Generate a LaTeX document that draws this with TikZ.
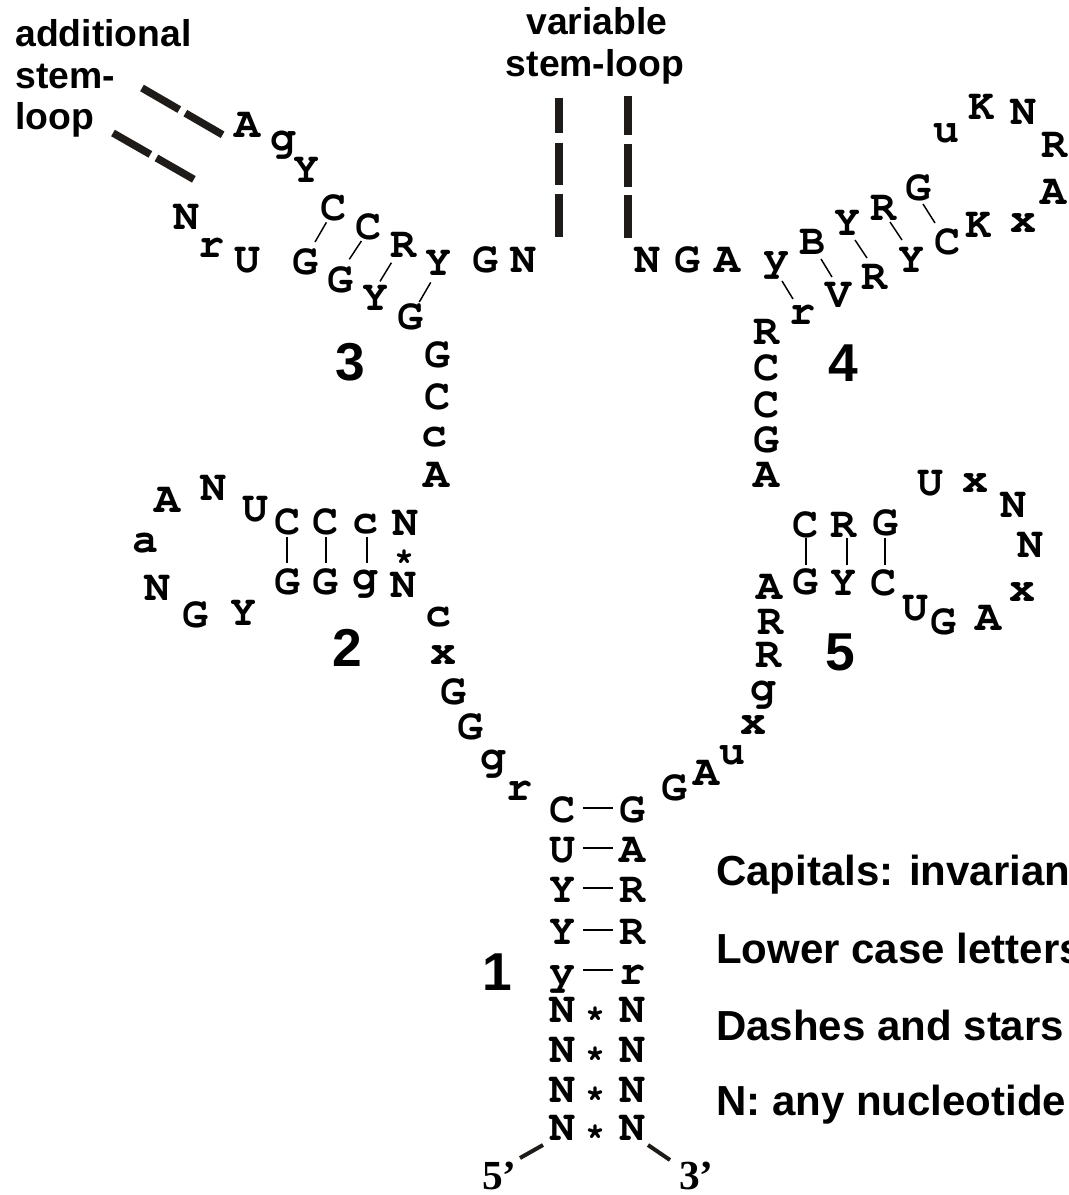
\documentclass[tikz,border=0pt]{standalone}
\usepackage[T1]{fontenc}
\usepackage{fontspec}
\usetikzlibrary{calc}
\newfontfamily\labelfont{Liberation Sans}
\newfontfamily\primefont{Liberation Serif}
\newcommand\nucfont{\fontencoding{T1}\fontfamily{pcr}\fontseries{b}\fontshape{n}\fontsize{32.5pt}{32.5pt}\selectfont}
\newcommand\starfont{\fontencoding{T1}\fontfamily{pcr}\fontseries{b}\fontshape{n}\fontsize{25pt}{25pt}\selectfont}
\definecolor{inkdark}{RGB}{30,27,24}

\begin{document}
\begin{tikzpicture}[x=0.75pt,y=-0.75pt,
  nuc/.style={font=\nucfont, inner sep=0pt, text height=18.6pt, text depth=0pt, anchor=center},
  starmark/.style={font=\starfont, inner sep=0pt, anchor=center, yshift=-4pt},
  pairln/.style={line width=1.1pt, black},
  leadln/.style={line width=3pt, inkdark},
  loopdash/.style={line width=5.6pt, inkdark, dash pattern=on 32.3pt off 5.3pt},
  vardash/.style={line width=6pt, inkdark},
  num/.style={font={\labelfont\bfseries\fontsize{40pt}{40pt}\selectfont}, inner sep=0pt, anchor=center},
  lab/.style={font={\labelfont\bfseries\fontsize{28pt}{31.5pt}\selectfont}, inner sep=0pt},
  legend/.style={font={\labelfont\bfseries\fontsize{31.5pt}{34pt}\selectfont}, inner sep=0pt, anchor=base west},
  prime/.style={font={\primefont\bfseries\fontsize{31pt}{31pt}\selectfont}, inner sep=0pt, anchor=base west}]

\useasboundingbox (0,0) rectangle (1068,1195);
\clip (0,0) rectangle (1068,1195);
\fill[white] (0,0) rectangle (1068,1195);

% ---- labels of the optional stem-loops
\node[lab, anchor=base west] (addA) at (15,47) {additional};
\node[lab, anchor=base west] (addB) at (15,89) {stem-};
\node[lab, anchor=base west] (addC) at (15,130) {loop};
\node[lab, anchor=base] (varA) at (597,35) {variable};
\node[lab, anchor=base] (varB) at (595,77) {stem-loop};

% ---- stem 3 with the additional stem-loop
\node[nuc] (s3a) at (247,125) {A};
\node[nuc] (s3b) at (283,138) {g};
\node[nuc] (s3c) at (306,170) {Y};
\node[nuc] (s3d) at (333,208) {C};
\node[nuc] (s3e) at (368,227) {C};
\node[nuc] (s3f) at (403,245) {R};
\node[nuc] (s3g) at (438,263) {Y};
\node[nuc] (s3h) at (485,260) {G};
\node[nuc] (s3i) at (523,260) {N};
\node[nuc] (s3n) at (186,217) {N};
\node[nuc] (s3o) at (211,245) {r};
\node[nuc] (s3p) at (247,260) {U};
\node[nuc] (s3q) at (305,262) {G};
\node[nuc] (s3r) at (340,280) {G};
\node[nuc] (s3s) at (375,298) {Y};
\node[nuc] (s3t) at (410,317) {G};
\draw[pairln] ($(s3d)+(-6.6,14.4)$) -- ($(s3q)+(10,-20)$);
\draw[pairln] ($(s3e)+(-6.6,14)$) -- ($(s3r)+(9.3,-20.7)$);
\draw[pairln] ($(s3f)+(-11.6,17.7)$) -- ($(s3s)+(5,-16.6)$);
\draw[pairln] ($(s3g)+(-7.3,19.4)$) -- ($(s3t)+(9.3,-15)$);
\coordinate (addU) at (142,88);
\coordinate (addL) at (113,133);
\draw[loopdash] (addU) -- ($(s3a)+(-24,10)$);
\draw[loopdash] (addL) -- ($(s3n)+(9,-37)$);

% ---- variable stem-loop
\coordinate (vl1) at (559,98);  \coordinate (vl2) at (559,237);
\coordinate (vr1) at (628,96);  \coordinate (vr2) at (628,238);
\draw[vardash] (vl1) -- (559,133) (559,143) -- (559,185) (559,194) -- (vl2);
\draw[vardash] (vr1) -- (628,135) (628,144) -- (628,187) (628,195) -- (vr2);

% ---- junction between stems 3 and 2
\node[nuc] (j32a) at (437,355) {G};
\node[nuc] (j32b) at (437,397) {C};
\node[nuc] (j32c) at (434,434) {c};
\node[nuc] (j32d) at (436,475) {A};
\node[num] (n3) at (350,362) {3};

% ---- stem 2
\node[nuc] (s2a) at (405,523) {N};
\node[nuc] (s2b) at (365,521) {c};
\node[nuc] (s2c) at (325,522) {C};
\node[nuc] (s2d) at (287,522) {C};
\node[nuc] (s2e) at (255,509) {U};
\node[nuc] (s2f) at (213,488) {N};
\node[nuc] (s2g) at (167,500) {A};
\node[nuc] (s2h) at (145,540) {a};
\node[nuc] (s2i) at (157,588) {N};
\node[nuc] (s2j) at (195,615) {G};
\node[nuc] (s2k) at (243,613) {Y};
\node[nuc] (s2l) at (287,582) {G};
\node[nuc] (s2m) at (325,582) {G};
\node[nuc] (s2n) at (365,577) {g};
\node[nuc] (s2o) at (403,585) {N};
\node[starmark] (s2st) at (404,553) {*};
\draw[pairln] ($(s2d)+(0,15)$) -- ($(s2l)+(0,-19)$);
\draw[pairln] ($(s2c)+(1,15)$) -- ($(s2m)+(1,-19)$);
\draw[pairln] ($(s2b)+(2,16)$) -- ($(s2n)+(2,-14)$);
\node[num] (n2) at (347,648) {2};

% ---- junction between stems 2 and 1
\node[nuc] (j21a) at (438,614) {c};
\node[nuc] (j21b) at (443,652) {x};
\node[nuc] (j21c) at (453,692) {G};
\node[nuc] (j21d) at (470,727) {G};
\node[nuc] (j21e) at (493,757) {g};
\node[nuc] (j21f) at (519,788) {r};

% ---- stem 1 (acceptor stem)
\foreach \i/\l/\r/\y in {1/C/G/810, 2/U/A/850, 3/Y/R/890, 4/Y/R/932, 5/y/r/972,
                         6/N/N/1010, 7/N/N/1050, 8/N/N/1090, 9/N/N/1128} {
  \node[nuc] (L\i) at (562,\y) {\l};
  \node[nuc] (R\i) at (632,\y) {\r};
}
\foreach \i in {1,...,5} {
  \draw[pairln] ($(L\i)+(21,-2)$) -- ($(R\i)+(-19,-2)$);
}
\foreach \i/\y in {6/1010, 7/1050, 8/1090, 9/1128} {
  \node[starmark] (st\i) at (595,\y) {*};
}
\node[num] (n1) at (497,972) {1};
\node[prime] (p5) at (482,1189) {5’};
\node[prime] (p3) at (679,1189) {3’};
\draw[leadln] ($(L9)+(-19,17)$) -- ($(L9)+(-42,30)$);
\draw[leadln] ($(R9)+(16,17)$) -- ($(R9)+(38,32)$);

% ---- junction between stems 1 and 5
\node[nuc] (j15a) at (674,788) {G};
\node[nuc] (j15b) at (706,773) {A};
\node[nuc] (j15c) at (732,752) {u};
\node[nuc] (j15d) at (753,722) {x};
\node[nuc] (j15e) at (763,688) {g};
\node[nuc] (j15f) at (768,655) {R};
\node[nuc] (j15g) at (770,622) {R};
\node[nuc] (j15h) at (769,587) {A};

% ---- stem 5
\node[nuc] (s5a) at (805,582) {G};
\node[nuc] (s5b) at (843,583) {Y};
\node[nuc] (s5c) at (883,583) {C};
\node[nuc] (s5d) at (915,608) {U};
\node[nuc] (s5e) at (943,622) {G};
\node[nuc] (s5f) at (988,618) {A};
\node[nuc] (s5g) at (1022,589) {x};
\node[nuc] (s5h) at (1030,545) {N};
\node[nuc] (s5i) at (1013,505) {N};
\node[nuc] (s5j) at (975,480) {x};
\node[nuc] (s5k) at (930,483) {U};
\node[nuc] (s5l) at (885,523) {G};
\node[nuc] (s5m) at (843,525) {R};
\node[nuc] (s5n) at (805,525) {C};
\draw[pairln] ($(s5n)+(1,13)$) -- ($(s5a)+(1,-17)$);
\draw[pairln] ($(s5m)+(4,13)$) -- ($(s5b)+(4,-18)$);
\draw[pairln] ($(s5l)+(0,15)$) -- ($(s5c)+(2,-18)$);
\node[num] (n5) at (840,652) {5};

% ---- junction between stems 5 and 4
\node[nuc] (j54a) at (766,475) {A};
\node[nuc] (j54b) at (766,440) {G};
\node[nuc] (j54c) at (766,405) {C};
\node[nuc] (j54d) at (766,368) {C};
\node[nuc] (j54e) at (766,332) {R};
\node[num] (n4) at (843,363) {4};

% ---- stem 4
\node[nuc] (s4a) at (802,312) {r};
\node[nuc] (s4b) at (838,295) {V};
\node[nuc] (s4c) at (874,277) {R};
\node[nuc] (s4d) at (911,260) {Y};
\node[nuc] (s4e) at (947,242) {C};
\node[nuc] (s4f) at (978,225) {K};
\node[nuc] (s4g) at (1023,220) {x};
\node[nuc] (s4h) at (1053,192) {A};
\node[nuc] (s4i) at (1054,145) {R};
\node[nuc] (s4j) at (1023,112) {N};
\node[nuc] (s4k) at (981,107) {K};
\node[nuc] (s4l) at (946,130) {u};
\node[nuc] (s4m) at (918,188) {G};
\node[nuc] (s4n) at (883,208) {R};
\node[nuc] (s4o) at (847,223) {Y};
\node[nuc] (s4p) at (812,242) {B};
\node[nuc] (s4q) at (776,258) {y};
\node[nuc] (j4c) at (727,260) {A};
\node[nuc] (j4b) at (687,260) {G};
\node[nuc] (j4a) at (647,260) {N};
\draw[pairln] ($(s4q)+(6,23)$) -- ($(s4a)+(-9,-13)$);
\draw[pairln] ($(s4p)+(9,17)$) -- ($(s4b)+(-6,-18)$);
\draw[pairln] ($(s4o)+(8,17)$) -- ($(s4c)+(-7,-19)$);
\draw[pairln] ($(s4n)+(7,14)$) -- ($(s4d)+(-9,-20)$);
\draw[pairln] ($(s4m)+(5,16)$) -- ($(s4e)+(-12,-19)$);

% ---- legend
\node[legend] (lg1) at (716,885) {Capitals: invariant};
\node[legend] (lg2) at (716,963) {Lower case letters};
\node[legend] (lg3) at (716,1040) {Dashes and stars};
\node[legend] (lg4) at (716,1115) {N: any nucleotide};
\end{tikzpicture}
\end{document}
